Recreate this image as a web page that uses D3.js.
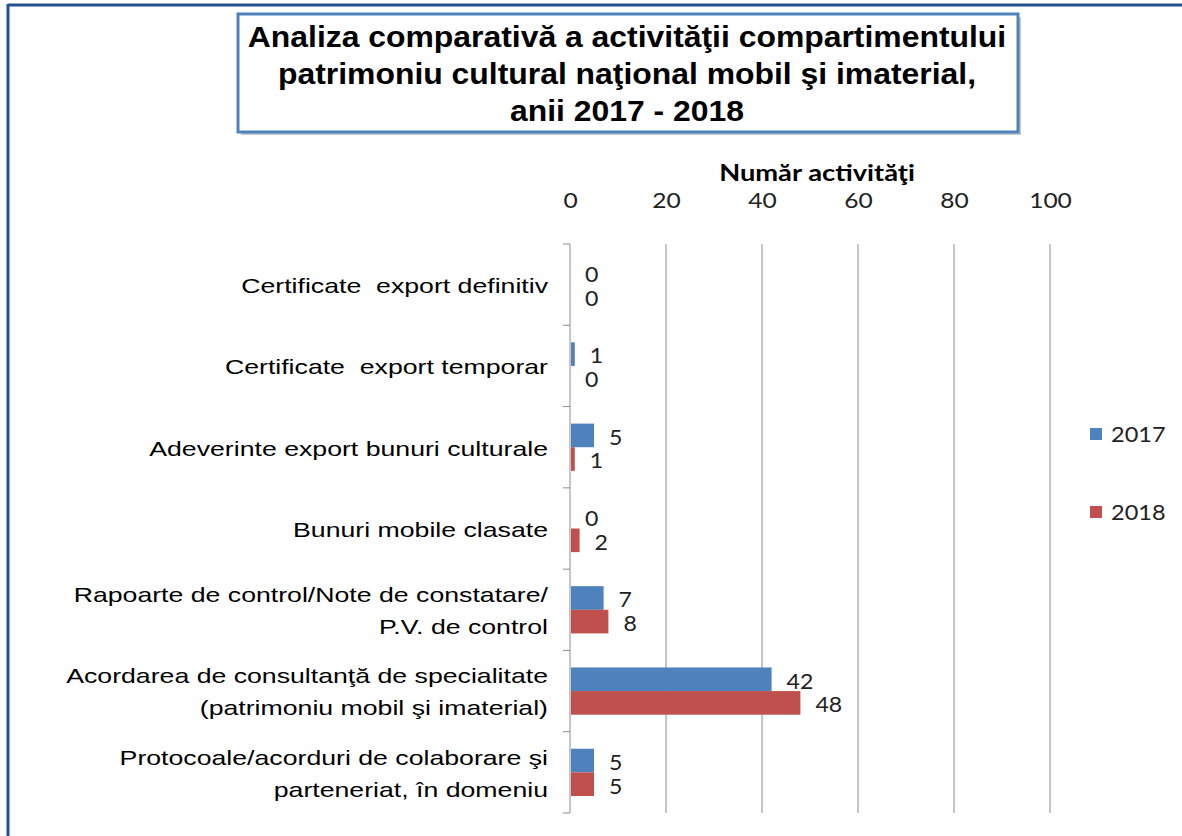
<!DOCTYPE html>
<html>
<head>
<meta charset="utf-8">
<script src="https://cdn.jsdelivr.net/npm/d3@7"></script>
<style>
    body { margin: 0; background: #fff; }
    svg text { white-space: pre; }
</style>
</head>
<body>
<div id="chart"></div>
<script>
// chart data
var categories = [
    'Certificate  export definitiv',
    'Certificate  export temporar',
    'Adeverinte export bunuri culturale',
    'Bunuri mobile clasate',
    'Rapoarte de control/Note de constatare/\nP.V. de control',
    'Acordarea de consultanţă de specialitate\n(patrimoniu mobil şi imaterial)',
    'Protocoale/acorduri de colaborare şi\nparteneriat, în domeniu'
];
var seriesNames = ['2017', '2018'];
var values2017 = [0, 1, 5, 0, 7, 42, 5];
var values2018 = [0, 0, 1, 2, 8, 48, 5];
var xTicks = [0, 20, 40, 60, 80, 100];
var titleLines = [
    'Analiza comparativă a activităţii compartimentului',
    'patrimoniu cultural naţional mobil şi imaterial,',
    'anii 2017 - 2018'
];
var axisTitle = 'Număr activităţi';

var colors = ['#4f81bd', '#c0504d'];
var W = 1182, H = 836;
var dim = {t: 244, b: 813, l: 570, r: 1050};
var tickFont = 'Lato, "Open Sans", sans-serif';
var labelFont = '"Liberation Sans", Arial, sans-serif';
var stretch = 1.17;  // the picture is a bit wider than tall

var svg = d3.select('#chart').append('svg')
    .attr('width', W)
    .attr('height', H);

// outer frame lines
svg.append('line').attr('x1', 8).attr('x2', W).attr('y1', 5).attr('y2', 5)
    .attr('stroke', '#24508e').attr('stroke-width', 3);
svg.append('line').attr('x1', 8).attr('x2', 8).attr('y1', 4).attr('y2', H)
    .attr('stroke', '#24508e').attr('stroke-width', 3);

// title box with shadow
svg.append('rect').attr('x', 241).attr('y', 17).attr('width', 780).attr('height', 118)
    .attr('fill', '#c8c8c8');
svg.append('rect').attr('x', 238).attr('y', 14).attr('width', 780).attr('height', 118)
    .attr('fill', '#fff').attr('stroke', '#4f81bd').attr('stroke-width', 3);
svg.append('g').selectAll('text').data(titleLines).enter()
    .append('text')
    .attr('transform', function(d, i) { return 'translate(627,' + (47 + i * 37) + ') scale(1.1,1)'; })
    .attr('text-anchor', 'middle')
    .attr('font-family', '"Liberation Sans", Arial, sans-serif')
    .attr('font-weight', 'bold')
    .attr('font-size', 29)
    .attr('fill', '#000')
    .text(function(d) { return d; });

// scales
var x = d3.scaleLinear().domain([0, 100]).range([dim.l, dim.r]);
var y = d3.scaleBand().domain(d3.range(categories.length))
    .range([dim.t, dim.b]);
var yInner = d3.scaleBand().domain(seriesNames)
    .range([0, y.bandwidth()]).paddingOuter(0.72);

// gridlines
svg.append('g').selectAll('line').data(xTicks.slice(1)).enter()
    .append('line')
    .attr('x1', function(d) { return x(d); })
    .attr('x2', function(d) { return x(d); })
    .attr('y1', dim.t)
    .attr('y2', dim.b)
    .attr('stroke', '#8c8c8c')
    .attr('stroke-width', 1);

// top axis
var xAxis = svg.append('g')
    .attr('transform', 'translate(0,' + (dim.t - 36) + ')')
    .call(d3.axisTop(x).tickValues(xTicks).tickSize(0).tickPadding(0));
xAxis.select('.domain').remove();
xAxis.selectAll('text')
    .attr('transform', 'scale(' + stretch + ',1)')
    .attr('font-family', tickFont)
    .attr('font-size', 21)
    .attr('fill', '#222');

svg.append('text')
    .attr('transform', 'translate(817,181) scale(1.24,1)')
    .attr('text-anchor', 'middle')
    .attr('font-family', tickFont)
    .attr('font-weight', 'bold')
    .attr('font-size', 22)
    .attr('fill', '#000')
    .text(axisTitle);

// category axis line and ticks
var yAxis = svg.append('g')
    .attr('transform', 'translate(' + dim.l + ',0)');
yAxis.append('line')
    .attr('x1', 0).attr('x2', 0).attr('y1', dim.t).attr('y2', dim.b)
    .attr('stroke', '#8c8c8c');
yAxis.selectAll('.tick').data(d3.range(categories.length + 1)).enter()
    .append('line').attr('class', 'tick')
    .attr('x1', -7).attr('x2', 0)
    .attr('y1', function(d) { return dim.t + d * y.step(); })
    .attr('y2', function(d) { return dim.t + d * y.step(); })
    .attr('stroke', '#8c8c8c');

// category labels
var labels = svg.append('g').selectAll('text').data(categories).enter()
    .append('text')
    .attr('transform', 'translate(548,0) scale(1.27,1)')
    .attr('text-anchor', 'end')
    .attr('font-family', labelFont)
    .attr('font-size', 21)
    .attr('fill', '#000');
labels.each(function(d, i) {
    var lines = d.split('\n');
    var cy = y(i) + y.bandwidth() / 2 + 1;
    var sel = d3.select(this);
    lines.forEach(function(line, j) {
        sel.append('tspan')
            .attr('x', 0)
            .attr('y', cy + (j - (lines.length - 1) / 2) * 32)
            .attr('dy', '0.35em')
            .text(line);
    });
});

// bars per series
var series = [values2017, values2018];
series.forEach(function(vals, s) {
    var g = svg.append('g').attr('class', 'series');
    g.selectAll('rect').data(vals).enter()
        .append('rect')
        .attr('x', x(0) + 1)
        .attr('y', function(d, i) { return y(i) + yInner(seriesNames[s]); })
        .attr('width', function(d) { return Math.max(0, x(d) - x(0) - 1); })
        .attr('height', yInner.bandwidth())
        .attr('fill', colors[s]);

    // value labels
    g.selectAll('text').data(vals).enter()
        .append('text')
        .attr('transform', function(d, i) {
            var ty = y(i) + yInner(seriesNames[s]) + yInner.bandwidth() / 2 + 2;
            return 'translate(' + (x(d) + 15) + ',' + ty + ') scale(1.1,1)';
        })
        .attr('dy', '0.35em')
        .attr('font-family', tickFont)
        .attr('font-size', 21)
        .attr('fill', '#222')
        .text(function(d) { return d; });
});

// legend
var legend = svg.append('g').selectAll('g').data(seriesNames).enter()
    .append('g')
    .attr('transform', function(d, i) { return 'translate(1090,' + (434 + i * 78) + ')'; });
legend.append('rect')
    .attr('x', 0).attr('y', -6).attr('width', 12).attr('height', 12)
    .attr('fill', function(d, i) { return colors[i]; });
legend.append('text')
    .attr('transform', 'translate(21,1) scale(1.12,1)')
    .attr('dy', '0.35em')
    .attr('font-family', tickFont)
    .attr('font-size', 21)
    .attr('fill', '#222')
    .text(function(d) { return d; });
</script>
</body>
</html>
